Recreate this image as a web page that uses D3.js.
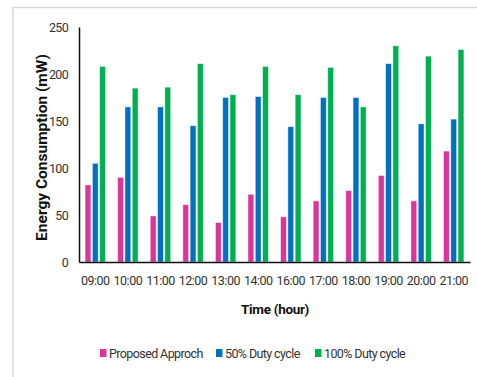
<!DOCTYPE html>
<html>
<head>
<meta charset="utf-8">
<script src="https://cdn.jsdelivr.net/npm/d3@7"></script>
<style>
  body { margin: 0; background: #fff; }
  svg { display: block; font-family: Roboto, "Liberation Sans", sans-serif; }
</style>
</head>
<body>
<svg id="chart" width="477" height="377"></svg>
<script>
// data
const hours = ['09:00', '10:00', '11:00', '12:00', '13:00', '14:00', '16:00', '17:00', '18:00', '19:00', '20:00', '21:00'];
const proposed = [82, 90, 49, 61, 42, 72, 48, 65, 76, 92, 65, 118];
const duty50 = [105, 165, 165, 145, 175, 176, 144, 175, 175, 211, 147, 152];
const duty100 = [208, 185, 186, 211, 178, 208, 178, 207, 165, 230, 219, 226];
const yTicks = [0, 50, 100, 150, 200, 250];

const seriesNames = ['Proposed Approch', '50% Duty cycle', '100% Duty cycle'];
const seriesColors = ['#d9359a', '#0070c0', '#00b050'];
const seriesValues = [proposed, duty50, duty100];

const svg = d3.select('#chart');
const MARGIN = {top: 27, right: 7, bottom: 115, left: 79};
const W = 477, H = 377;

// frame (only top and left edges visible)
svg.append('path')
    .attr('d', `M13,377 V7.5 H477`)
    .attr('fill', 'none')
    .attr('stroke', '#d9d9d9')
    .attr('stroke-width', 1.5);

const xScale = d3.scaleBand()
    .domain(hours)
    .range([MARGIN.left, W - MARGIN.right]);

const inner = d3.scaleBand()
    .domain(d3.range(3))
    .range([-10.2, 10.2])
    .paddingInner(0.2);

const yScale = d3.scaleLinear()
    .domain([0, 250])
    .range([H - MARGIN.bottom, MARGIN.top]);

// bars
const groups = svg.append('g').selectAll('g')
    .data(hours)
    .join('g')
    .attr('transform', d => `translate(${xScale(d) + xScale.bandwidth() / 2},0)`);

groups.selectAll('rect')
    .data((d, i) => seriesValues.map((s, k) => ({k: k, v: s[i]})))
    .join('rect')
    .attr('x', d => inner(d.k))
    .attr('width', inner.bandwidth())
    .attr('y', d => yScale(d.v))
    .attr('height', d => yScale(0) - yScale(d.v))
    .attr('fill', d => seriesColors[d.k])
    .attr('stroke', 'rgba(255,255,255,0.55)')
    .attr('stroke-width', 0.8);

// y axis
const yAxis = d3.axisLeft(yScale).tickValues(yTicks).tickSize(0).tickPadding(11);
const yg = svg.append('g')
    .attr('transform', `translate(${MARGIN.left},0)`)
    .call(yAxis)
    .attr('font-family', null);
yg.select('.domain').attr('stroke', '#111').attr('stroke-width', 1.5);
yg.selectAll('.tick text')
    .attr('font-size', 12.5)
    .attr('letter-spacing', -0.7)
    .attr('fill', '#333');

// x axis
const xAxis = d3.axisBottom(xScale).tickSize(0).tickPadding(14);
const xg = svg.append('g')
    .attr('transform', `translate(0,${yScale(0)})`)
    .call(xAxis)
    .attr('font-family', null);
xg.select('.domain').attr('stroke', '#111').attr('stroke-width', 1.5);
xg.selectAll('.tick text')
    .attr('font-size', 12.5)
    .attr('letter-spacing', -0.5)
    .attr('fill', '#333');

// axis titles
svg.append('text')
    .attr('x', 275)
    .attr('y', 314)
    .attr('text-anchor', 'middle')
    .attr('font-size', 13.5)
    .attr('font-weight', 'bold')
    .attr('letter-spacing', -0.3)
    .attr('fill', '#111')
    .text('Time (hour)');

svg.append('text')
    .attr('transform', `translate(46.5,147.5) rotate(-90)`)
    .attr('text-anchor', 'middle')
    .attr('font-size', 15.5)
    .attr('font-weight', 'bold')
    .attr('fill', '#111')
    .text('Energy Consumption (mW)');

// legend
const legendX = [100, 216, 315];
const legend = svg.append('g').selectAll('g')
    .data(seriesNames)
    .join('g')
    .attr('transform', (d, i) => `translate(${legendX[i]},349)`);
legend.append('rect')
    .attr('width', 6.5)
    .attr('height', 8)
    .attr('fill', (d, i) => seriesColors[i]);
legend.append('text')
    .attr('x', 9)
    .attr('y', 9)
    .attr('font-size', 12.5)
    .attr('letter-spacing', -0.6)
    .attr('fill', '#333')
    .text(d => d);
</script>
</body>
</html>
